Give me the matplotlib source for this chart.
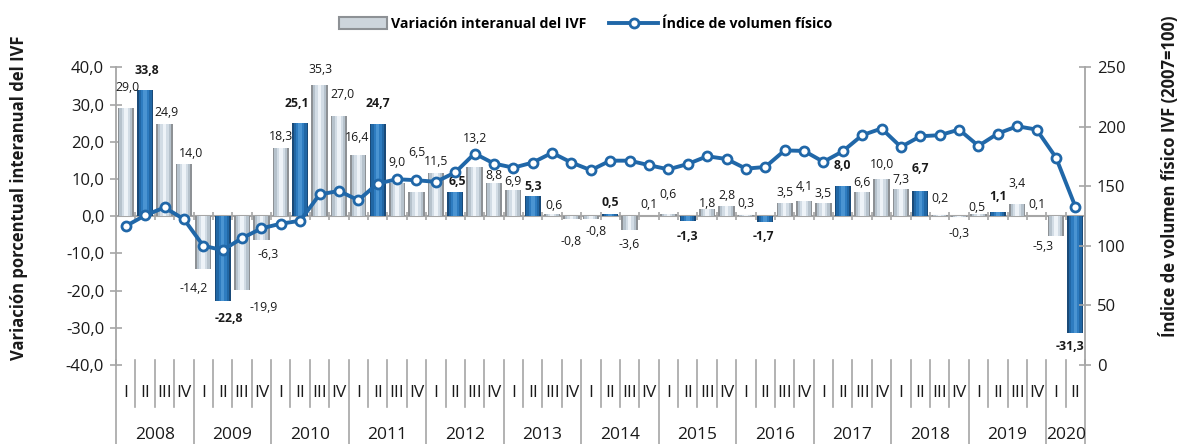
import matplotlib
matplotlib.use("Agg")
import matplotlib.pyplot as plt
from matplotlib.patches import Patch
from matplotlib.lines import Line2D
import matplotlib.transforms as mtransforms
import numpy as np

plt.rcParams['font.family'] = ['Open Sans', 'DejaVu Sans']

# ---- data -------------------------------------------------------------
years = ["2008", "2009", "2010", "2011", "2012", "2013", "2014",
         "2015", "2016", "2017", "2018", "2019", "2020"]
quarters_per_year = [4, 4, 4, 4, 4, 4, 4, 4, 4, 4, 4, 4, 2]
quarter_names = ["I", "II", "III", "IV"]

# Variación interanual del IVF (%)
variacion = [29.0, 33.8, 24.9, 14.0,
             -14.2, -22.8, -19.9, -6.3,
             18.3, 25.1, 35.3, 27.0,
             16.4, 24.7, 9.0, 6.5,
             11.5, 6.5, 13.2, 8.8,
             6.9, 5.3, 0.6, -0.8,
             -0.8, 0.5, -3.6, 0.1,
             0.6, -1.3, 1.8, 2.8,
             0.3, -1.7, 3.5, 4.1,
             3.5, 8.0, 6.6, 10.0,
             7.3, 6.7, 0.2, -0.3,
             0.5, 1.1, 3.4, 0.1,
             -5.3, -31.3]

# Índice de volumen físico (2007=100)
indice = [116.6, 125.7, 132.3, 122.5,
          100.1, 96.5, 106.5, 114.7,
          118.7, 121.1, 143.2, 146.2,
          138.4, 152.4, 156.0, 155.2,
          153.8, 161.7, 177.6, 169.2,
          165.7, 170.0, 178.2, 170.0,
          163.6, 171.6, 171.6, 167.8,
          164.3, 168.8, 175.3, 173.0,
          164.9, 166.3, 180.2, 179.8,
          170.6, 179.5, 193.0, 198.6,
          183.1, 192.1, 193.0, 197.7,
          184.0, 194.4, 200.5, 197.7,
          174.2, 133.0]

# label nudges in pixels (dx, dy) relative to the bar end
label_offsets = [(2, 21), (2, 20), (2, 11), (7, 11),
                 (-10, -19), (6, -17), (22, -17), (7, -15),
                 (0, 12), (-3, 19), (1, 15), (4, 21),
                 (-1, 18), (0, 21), (0, 20), (0, 39),
                 (0, 12), (2, 10), (0, 29), (0, 8),
                 (0, 9), (0, 10), (2, 8), (0, -22),
                 (5, -12), (0, 12), (0, -15), (0, 11),
                 (0, 19), (0, -16), (0, 6), (0, 10),
                 (0, 12), (-2, -14), (0, 11), (0, 14),
                 (0, 10), (0, 21), (0, 9), (0, 14),
                 (0, 9), (0, 23), (0, 17), (0, -16),
                 (-2, 7), (0, 16), (0, 20), (0, 11),
                 (-13, -11), (-5, -14)]

GREY_SHADES = ['#8d9195', '#b6c2cc', '#d2dce5', '#eef3f8']
BLUE_SHADES = ['#1a4a78', '#2167a5', '#2e7cc0', '#4a94d2']
LINE_COLOR = '#2067a8'
AXIS_GREY = '#a6a6a6'
TEXT_COLOR = '#1a1a1a'

n = len(variacion)
x = np.arange(n)
q_index = np.array([q for cnt in quarters_per_year for q in range(cnt)])
is_q2 = q_index == 1
vals = np.array(variacion)

fig = plt.figure(figsize=(11.83, 4.44), dpi=100)
ax = fig.add_axes([0.0981, 0.1779, 0.9172 - 0.0981, 0.8484 - 0.1779])
ax2 = ax.twinx()

# ---- bars with a cylinder-like shading ---------------------------------
bar_w = 0.84
fractions = [1.0, 0.80, 0.50, 0.22]
for k, frac in enumerate(fractions):
    ax.bar(x[~is_q2], vals[~is_q2], width=bar_w * frac,
           color=GREY_SHADES[k], linewidth=0, zorder=3 + k * 0.1)
    ax.bar(x[is_q2], vals[is_q2], width=bar_w * frac,
           color=BLUE_SHADES[k], linewidth=0, zorder=3 + k * 0.1)

# zero line with small category ticks
ax.axhline(0, color=AXIS_GREY, lw=1.5, zorder=2)
ax.vlines(np.arange(n + 1) - 0.5, -1.1, 1.1, color=AXIS_GREY, lw=1.2, zorder=2)

# data labels
for i, v in enumerate(variacion):
    dx, dy = label_offsets[i]
    txt = f"{v:.1f}".replace(".", ",")
    ax.annotate(txt, (x[i], v), xytext=(dx, dy), textcoords='offset pixels',
                ha='center', va='center', fontsize=8.8, color=TEXT_COLOR,
                fontweight='bold' if is_q2[i] else 'normal', zorder=6)

ax.set_xlim(-0.5, n - 0.5)
ax.set_ylim(-40, 40)
ax.set_yticks(np.arange(-40, 41, 10))
ax.set_yticklabels([f"{t:.1f}".replace(".", ",") for t in np.arange(-40, 41, 10)])
ax.set_xticks([])

# ---- index line ------------------------------------------------------
ax2.plot(x, indice, color=LINE_COLOR, lw=2.8, marker='o', markersize=6.5,
         markerfacecolor='white', markeredgecolor=LINE_COLOR,
         markeredgewidth=2, zorder=5)
ax2.set_ylim(0, 250)
ax2.set_yticks(np.arange(0, 251, 50))

for a in (ax, ax2):
    for s in a.spines.values():
        s.set_visible(False)
    a.tick_params(axis='y', direction='inout', length=9, width=1.2,
                  color=AXIS_GREY, labelsize=12, labelcolor=TEXT_COLOR, pad=4)
ax.spines['left'].set_visible(True)
ax.spines['left'].set_color(AXIS_GREY)
ax.spines['left'].set_linewidth(1.3)
ax2.spines['right'].set_visible(True)
ax2.spines['right'].set_color(AXIS_GREY)
ax2.spines['right'].set_linewidth(1.3)

# ---- multi-level category axis ---------------------------------------
trans = mtransforms.blended_transform_factory(ax.transData, ax.transAxes)
pos = 0
year_edges = [-0.5]
for yr, cnt in zip(years, quarters_per_year):
    for q in range(cnt):
        ax.text(pos + q, -0.094, quarter_names[q], transform=trans,
                ha='center', va='center', fontsize=12.5, color=TEXT_COLOR)
        if q > 0:
            ax.plot([pos + q - 0.5] * 2, [0.017, -0.141], transform=trans,
                    color=AXIS_GREY, lw=1.2, clip_on=False)
    ax.text(pos + (cnt - 1) / 2, -0.235, yr, transform=trans,
            ha='center', va='center', fontsize=12.5, color=TEXT_COLOR)
    pos += cnt
    year_edges.append(pos - 0.5)
for e in year_edges:
    ax.plot([e, e], [0.017, -0.3], transform=trans, color=AXIS_GREY,
            lw=1.2, clip_on=False)

# ---- titles and legend -------------------------------------------------
fig.text(0.016, 0.555, "Variación porcentual interanual del IVF", rotation=90,
         ha='center', va='center', fontsize=12, fontweight='bold', color=TEXT_COLOR)
fig.text(0.988, 0.603, "Índice de volumen físico IVF (2007=100)", rotation=90,
         ha='center', va='center', fontsize=12, fontweight='bold', color=TEXT_COLOR)

handles = [Patch(facecolor='#cdd5dc', edgecolor='#8d9195', linewidth=1.5),
           Line2D([0], [0], color=LINE_COLOR, lw=2.8, marker='o', markersize=6.5,
                  markerfacecolor='white', markeredgecolor=LINE_COLOR,
                  markeredgewidth=2)]
fig.legend(handles, ["Variación interanual del IVF", "Índice de volumen físico"],
           loc='center', bbox_to_anchor=(0.495, 0.946), ncol=2, frameon=False,
           prop={'weight': 'bold', 'size': 10.2}, handlelength=3.4,
           handleheight=0.9, handletextpad=0.3, columnspacing=1.6)

fig.savefig("out.png", dpi=100)
